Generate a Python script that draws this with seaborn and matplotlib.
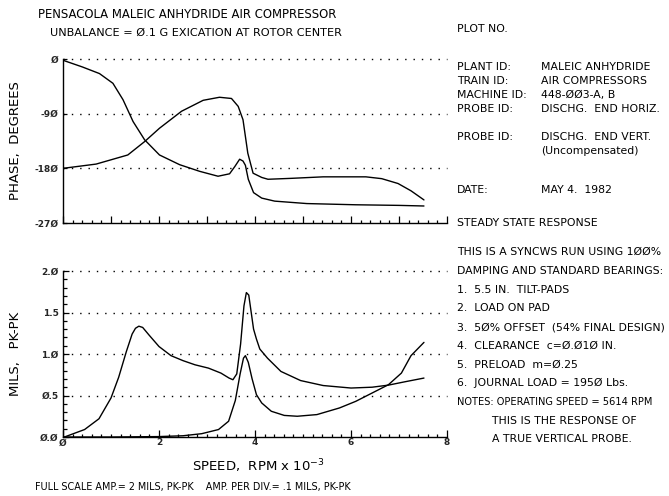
import numpy as np
import pandas as pd
import matplotlib
matplotlib.use("Agg")
import matplotlib.pyplot as plt
from matplotlib.ticker import MultipleLocator, FixedLocator
import seaborn as sns

# ---------------- data ----------------
phase_h_speed = [0.0, 0.07, 0.4, 0.76, 1.04, 1.25, 1.46, 1.70, 2.01, 2.43, 2.85, 3.23, 3.47,
                 3.58, 3.68, 3.75, 3.80, 3.86, 3.97, 4.14, 4.41, 5.08, 6.10, 7.0, 7.52]
phase_h = [-2, -4, -13, -24, -40, -67, -103, -133, -158, -174, -185, -193, -189,
           -177, -165, -168, -175, -198, -220, -229, -234, -238, -240, -241, -242]

phase_v_speed = [0.0, 0.69, 1.35, 1.70, 2.01, 2.47, 2.92, 3.26, 3.51, 3.65, 3.75, 3.85, 3.96,
                 4.14, 4.27, 4.75, 5.42, 6.31, 6.64, 6.98, 7.25, 7.52]
phase_v = [-180, -173, -158, -136, -114, -86, -68, -63, -65, -78, -100, -155, -188,
           -195, -198, -196.5, -194, -194, -197, -205, -217, -232]

amp_v_speed = [0.03, 0.45, 0.75, 1.0, 1.16, 1.32, 1.44, 1.51, 1.58, 1.66, 1.79,
               2.0, 2.25, 2.5, 2.75, 3.03, 3.29, 3.46, 3.54, 3.62, 3.70,
               3.77, 3.82, 3.87, 3.97, 4.03, 4.10, 4.26, 4.54, 4.95, 5.42,
               6.0, 6.44, 6.78, 7.12, 7.52]
amp_v = [0.0, 0.09, 0.22, 0.47, 0.72, 1.03, 1.24, 1.31, 1.335, 1.32, 1.23,
         1.09, 0.98, 0.92, 0.87, 0.83, 0.77, 0.71, 0.69, 0.76, 1.12,
         1.58, 1.74, 1.71, 1.30, 1.18, 1.06, 0.95, 0.79, 0.68, 0.62,
         0.59, 0.60, 0.625, 0.665, 0.71]

amp_h_speed = [0.0, 1.0, 2.0, 2.5, 2.89, 3.24, 3.45, 3.59, 3.69, 3.76, 3.80, 3.86, 3.94,
               4.03, 4.14, 4.34, 4.61, 4.88, 5.29, 5.76, 6.10, 6.44, 6.78, 7.05, 7.25, 7.52]
amp_h = [0.0, 0.0, 0.005, 0.015, 0.04, 0.09, 0.19, 0.44, 0.76, 0.95, 0.98, 0.90, 0.70,
         0.51, 0.41, 0.31, 0.26, 0.25, 0.27, 0.35, 0.43, 0.53, 0.63, 0.77, 0.98, 1.14]

phase_ticks = [0, -90, -180, -270]
phase_ticklabels = ["Ø", "-9Ø", "-18Ø", "-27Ø"]
amp_ticks = [0.0, 0.5, 1.0, 1.5, 2.0]
amp_ticklabels = ["Ø.Ø", "Ø.5", "1.Ø", "1.5", "2.Ø"]
speed_ticks = [0, 2, 4, 6, 8]
speed_ticklabels = ["Ø", "2", "4", "6", "8"]

title_lines = ["PENSACOLA MALEIC ANHYDRIDE AIR COMPRESSOR",
               "UNBALANCE = Ø.1 G EXICATION AT ROTOR CENTER"]
info_labels = ["PLANT ID:", "TRAIN ID:", "MACHINE ID:", "PROBE ID:", "PROBE ID:", "", "DATE:"]
info_values = ["MALEIC ANHYDRIDE", "AIR COMPRESSORS", "448-ØØ3-A, B", "DISCHG.  END HORIZ.",
               "DISCHG.  END VERT.", "(Uncompensated)", "MAY 4.  1982"]
notes_lines = ["THIS IS A SYNCWS RUN USING 1ØØ%",
               "DAMPING AND STANDARD BEARINGS:",
               "1.  5.5 IN.  TILT-PADS",
               "2.  LOAD ON PAD",
               "3.  5Ø% OFFSET  (54% FINAL DESIGN)",
               "4.  CLEARANCE  c=Ø.Ø1Ø IN.",
               "5.  PRELOAD  m=Ø.25",
               "6.  JOURNAL LOAD = 195Ø Lbs.",
               "NOTES: OPERATING SPEED = 5614 RPM",
               "          THIS IS THE RESPONSE OF",
               "          A TRUE VERTICAL PROBE."]

# ---------------- figure ----------------
sns.set_theme(style="white")
plt.rcParams['font.family'] = ['DejaVu Sans']

W, H = 669, 496
fig = plt.figure(figsize=(W / 100, H / 100), dpi=100)
fig.patch.set_facecolor("white")

def fx(px):
    return px / W

def fy(py):
    return 1 - py / H

L, R = 63, 447
ax1 = fig.add_axes([fx(L), fy(223), (R - L) / W, (223 - 59) / H])
ax2 = fig.add_axes([fx(L), fy(437), (R - L) / W, (437 - 271) / H])

df_phase = pd.concat([
    pd.DataFrame({"speed": phase_h_speed, "value": phase_h, "probe": "horiz"}),
    pd.DataFrame({"speed": phase_v_speed, "value": phase_v, "probe": "vert"}),
])
df_amp = pd.concat([
    pd.DataFrame({"speed": amp_v_speed, "value": amp_v, "probe": "vert"}),
    pd.DataFrame({"speed": amp_h_speed, "value": amp_h, "probe": "horiz"}),
])

for ax, df in ((ax1, df_phase), (ax2, df_amp)):
    sns.lineplot(data=df, x="speed", y="value", hue="probe", palette=["black", "black"],
                 estimator=None, sort=False, legend=False, lw=1.0, ax=ax)

dot_style = (0, (1, 5))
tick_kw = dict(family="DejaVu Sans", fontsize=6.5, fontweight="bold")

for ax in (ax1, ax2):
    ax.set_facecolor("white")
    ax.set_xlim(0, 8)
    for s in ("top", "right"):
        ax.spines[s].set_visible(False)
    for s in ("left", "bottom"):
        ax.spines[s].set_color("black")
        ax.spines[s].set_linewidth(1.0)
    ax.xaxis.set_major_locator(MultipleLocator(1))
    ax.xaxis.set_minor_locator(MultipleLocator(0.2))
    ax.tick_params(axis="x", which="major", direction="in", length=5, width=0.9,
                   color="black", bottom=True, labelbottom=False)
    ax.tick_params(axis="x", which="minor", direction="in", length=2.5, width=0.9,
                   color="black", bottom=True)
    ax.set_xlabel("")
    ax.set_ylabel("")

# top axes
ax1.set_ylim(-270, 0)
ax1.yaxis.set_major_locator(FixedLocator(phase_ticks))
ax1.set_yticklabels(phase_ticklabels, **tick_kw)
ax1.tick_params(axis="y", which="major", direction="in", length=3, width=0.9,
                color="black", left=True, pad=3)
ax1.hlines(phase_ticks[:-1], 0, 8, colors="black", linestyles=dot_style, lw=1.0, clip_on=False)

# bottom axes
ax2.set_ylim(0, 2)
ax2.yaxis.set_major_locator(FixedLocator(amp_ticks))
ax2.yaxis.set_minor_locator(MultipleLocator(0.1))
ax2.set_yticklabels(amp_ticklabels, **tick_kw)
ax2.tick_params(axis="y", which="major", direction="in", length=4, width=0.9,
                color="black", left=True, pad=3)
ax2.tick_params(axis="y", which="minor", direction="in", length=3, width=0.9,
                color="black", left=True)
ax2.hlines(amp_ticks[1:], 0, 8, colors="black", linestyles=dot_style, lw=1.0, clip_on=False)
ax2.set_xticks(speed_ticks)
ax2.set_xticklabels(speed_ticklabels, **tick_kw)
ax2.tick_params(axis="x", which="major", labelbottom=True, pad=1)

# axis labels
lab_kw = dict(fontsize=9.5, color="black", ha="center", va="center")
fig.text(fx(16), fy(141), "PHASE,  DEGREES", rotation=90, **lab_kw)
fig.text(fx(16), fy(354), "MILS,   PK-PK", rotation=90, **lab_kw)
fig.text(fx(258), fy(466), r"SPEED,  RPM x 10$^{-3}$", **lab_kw)
fig.text(fx(35), fy(487), "FULL SCALE AMP.= 2 MILS, PK-PK    AMP. PER DIV.= .1 MILS, PK-PK",
         fontsize=6.9, color="black", ha="left", va="center")

# title
fig.text(fx(38), fy(15), title_lines[0], fontsize=8.4, ha="left", va="center", color="black")
fig.text(fx(50), fy(33), title_lines[1], fontsize=8.1, ha="left", va="center", color="black")

# right column
rt = dict(fontsize=7.8, ha="left", va="center", color="black")
fig.text(fx(457), fy(29), "PLOT NO.", **rt)
info_y = [67, 81, 95, 109, 137, 151, 190]
for lab, val, y in zip(info_labels, info_values, info_y):
    if lab:
        fig.text(fx(457), fy(y), lab, **rt)
    fig.text(fx(541), fy(y), val, **rt)
fig.text(fx(457), fy(223), "STEADY STATE RESPONSE", **rt)
note_y0, note_dy = 252, 18.7
for i, line in enumerate(notes_lines):
    y = 271 + (i - 1) * note_dy if i > 0 else note_y0
    kw = dict(rt)
    if line.startswith("NOTES"):
        kw["fontsize"] = 7.1
    fig.text(fx(457), fy(y), line, **kw)

fig.savefig("out.png", dpi=100, facecolor="white")
